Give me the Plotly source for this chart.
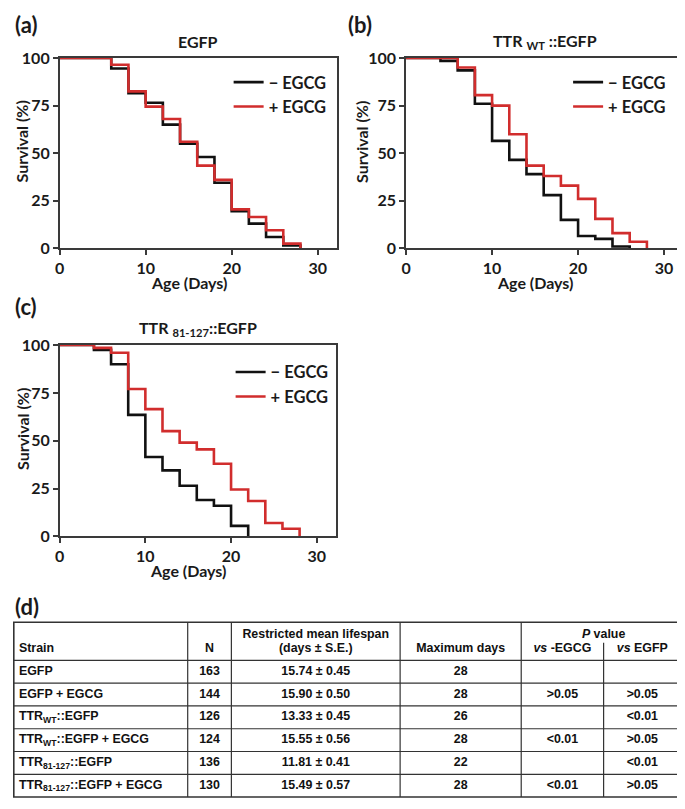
import subprocess
import plotly.graph_objects as go

# ---------------- data ----------------
# Panel (a) EGFP
a_days_ctrl = [0, 6, 8, 10, 12, 14, 16, 18, 20, 22, 24, 26, 28]
a_surv_ctrl = [100, 94.5, 81.5, 76.5, 65, 55, 48, 34.5, 19.5, 13, 6, 1.5, 0]
a_days_egcg = [0, 6, 8, 10, 12, 14, 16, 18, 20, 22, 24, 26, 28]
a_surv_egcg = [100, 96.5, 82.5, 74.5, 68, 56, 43.5, 36, 20.5, 16.5, 9.5, 2.5, 0]

# Panel (b) TTR WT::EGFP
b_days_ctrl = [0, 4, 6, 8, 10, 12, 14, 16, 18, 20, 22, 24, 26]
b_surv_ctrl = [100, 98.5, 93.5, 76, 56.5, 46.5, 39, 28, 15, 6.5, 5, 1, 0]
b_days_egcg = [0, 6, 8, 10, 12, 14, 16, 18, 20, 22, 24, 26, 28]
b_surv_egcg = [100, 95, 80.5, 75, 60, 43.5, 38, 33, 26, 15.5, 8, 3.5, 0]

# Panel (c) TTR 81-127::EGFP
c_days_ctrl = [0, 4, 6, 8, 10, 12, 14, 16, 18, 20, 22]
c_surv_ctrl = [100, 97.5, 90, 63.5, 41.5, 34.5, 26.5, 19, 16, 5.5, 0]
c_days_egcg = [0, 4, 6, 8, 10, 12, 14, 16, 18, 20, 22, 24, 26, 28]
c_surv_egcg = [100, 98.5, 96, 77, 66.5, 55, 49, 45.5, 38, 24.5, 18.5, 7, 4, 0]

x_ticks = [0, 10, 20, 30]
y_ticks = [0, 25, 50, 75, 100]
series_names = ["\u2212 EGCG", "+ EGCG"]
panel_titles = ["EGFP", "TTR <sub>WT</sub> ::EGFP", "TTR <sub>81-127</sub>::EGFP"]
panel_labels = ["(a)", "(b)", "(c)", "(d)"]
x_title = "Age (Days)"
y_title = "Survival (%)"

# Table (d)
tbl_strain = ["EGFP", "EGFP + EGCG", "TTR<sub>WT</sub>::EGFP", "TTR<sub>WT</sub>::EGFP + EGCG",
              "TTR<sub>81-127</sub>::EGFP", "TTR<sub>81-127</sub>::EGFP + EGCG"]
tbl_n = ["163", "144", "126", "124", "136", "130"]
tbl_mean = ["15.74 \u00b1 0.45", "15.90 \u00b1 0.50", "13.33 \u00b1 0.45",
            "15.55 \u00b1 0.56", "11.81 \u00b1 0.41", "15.49 \u00b1 0.57"]
tbl_max = ["28", "28", "26", "28", "22", "28"]
tbl_p_egcg = ["", "&gt;0.05", "", "&lt;0.01", "", "&lt;0.01"]
tbl_p_egfp = ["", "&gt;0.05", "&lt;0.01", "&gt;0.05", "&lt;0.01", "&gt;0.05"]
tbl_head_top = ["", "", "Restricted mean lifespan", "", "<i>P</i> value"]
tbl_head_bot = ["Strain", "N", "(days \u00b1 S.E.)", "Maximum days", "<i>vs</i> -EGCG", "<i>vs</i> EGFP"]

# ---------------- layout constants ----------------
# The page body has an 8px margin, so the figure is made 8px smaller and
# all page-pixel positions are shifted by that offset.
PW, PH = 685, 809
OFF = 8
W, H = PW - OFF, PH - OFF
def px(x):
    return (x - OFF) / W
def py(y):
    return 1 - (y - OFF) / H

BLACK = "#111111"
RED = "#d12d2d"
FRAME = "#3a3a3a"
FONT = "Lato, 'Open Sans', 'Liberation Sans', sans-serif"

try:
    _fams = subprocess.run(["fc-list", ":", "family"], capture_output=True, text=True).stdout
except Exception:
    _fams = ""
if "Liberation Sans Narrow" in _fams:
    TFONT, TSIZE = "'Liberation Sans Narrow', 'Liberation Sans', sans-serif", 14.8
else:
    TFONT, TSIZE = "'Liberation Sans', Arial, sans-serif", 12.4

panels = [
    dict(x0=55, x1=334, y0=49, y1=244, leg_right=329, leg_top=56, ytx=17,
         data=(a_days_ctrl, a_surv_ctrl, a_days_egcg, a_surv_egcg)),
    dict(x0=404, x1=683, y0=49, y1=244, leg_right=671, leg_top=56, ytx=359,
         data=(b_days_ctrl, b_surv_ctrl, b_days_egcg, b_surv_egcg)),
    dict(x0=55, x1=333, y0=343, y1=539, leg_right=331, leg_top=353, ytx=17,
         data=(c_days_ctrl, c_surv_ctrl, c_days_egcg, c_surv_egcg)),
]

fig = go.Figure()
layout = dict(
    width=W, height=H, margin=dict(l=0, r=0, t=0, b=0),
    paper_bgcolor="white", plot_bgcolor="rgba(0,0,0,0)",
    font=dict(family=FONT, color="#1a1a1a"),
    showlegend=True,
)
annotations = []
shapes = []

for i, p in enumerate(panels):
    k = "" if i == 0 else str(i + 1)
    leg = "legend" if i == 0 else "legend" + str(i + 1)
    dc, sc, de, se = p["data"]
    for (d, s, col, nm) in [(dc, sc, BLACK, series_names[0]), (de, se, RED, series_names[1])]:
        fig.add_trace(go.Scatter(
            x=d, y=s, mode="lines", line=dict(color=col, width=2.6, shape="hv"),
            name=nm, xaxis="x" + k, yaxis="y" + k, legend=leg, hoverinfo="skip"))
    axcommon = dict(showline=True, linecolor=FRAME, linewidth=1.5, mirror=True,
                    ticks="outside", ticklen=5, tickwidth=1.5, tickcolor=FRAME,
                    showgrid=False, zeroline=False,
                    tickfont=dict(size=16, family=FONT, weight="bold", color="#1a1a1a"))
    layout["xaxis" + k] = dict(domain=[px(p["x0"]), px(p["x1"])], range=[0, 32.2],
                               tickvals=x_ticks, anchor="y" + k, **axcommon)
    layout["yaxis" + k] = dict(domain=[py(p["y1"]), py(p["y0"])], range=[0, 100],
                               tickvals=y_ticks, anchor="x" + k, **axcommon)
    layout[leg] = dict(x=px(p["leg_right"]), y=py(p["leg_top"]), xanchor="right", yanchor="top",
                       bgcolor="rgba(0,0,0,0)", borderwidth=0, tracegroupgap=0,
                       font=dict(size=16.5, family=FONT, weight="bold", color="#1a1a1a"),
                       itemwidth=30)
    # panel title
    annotations.append(dict(text=panel_titles[i], xref="paper", yref="paper",
                            x=px((p["x0"] + p["x1"]) / 2), y=py(p["y0"] - 17),
                            xanchor="center", yanchor="middle", showarrow=False,
                            font=dict(size=16, family=FONT, weight="bold", color="#1a1a1a")))
    # axis titles
    annotations.append(dict(text=x_title, xref="x" + k, yref="paper",
                            x=(x_ticks[0] + x_ticks[-1]) / 2, y=py(p["y1"] + 35),
                            xanchor="center", yanchor="middle", showarrow=False,
                            font=dict(size=16, family=FONT, weight="bold", color="#1a1a1a")))
    annotations.append(dict(text=y_title, xref="paper", yref="paper",
                            x=px(p["ytx"]), y=py((p["y0"] + p["y1"]) / 2 - 12),
                            xanchor="center", yanchor="middle", textangle=-90, showarrow=False,
                            font=dict(size=16, family=FONT, weight="bold", color="#1a1a1a")))

# panel letters
for lab, (lx, ly) in zip(panel_labels, [(8, 15), (343, 15), (8, 304), (8, 611)]):
    annotations.append(dict(text=lab, xref="paper", yref="paper", x=px(lx), y=py(ly),
                            xanchor="left", yanchor="middle", showarrow=False,
                            font=dict(size=22, family=FONT, weight="bold", color="#1a1a1a")))

# ---------------- table (d) ----------------
col_edges = [4, 184, 228, 398, 520, 603, 681]
t_top, t_head, t_bot = 627, 666, 806
nrows = len(tbl_strain)
row_h = (t_bot - t_head) / nrows
row_c = [t_head + row_h * (r + 0.5) for r in range(nrows)]
col_c = [(col_edges[j] + col_edges[j + 1]) / 2 for j in range(len(col_edges) - 1)]

T_Y0 = 600  # top of table area (page px)
layout["xaxis4"] = dict(domain=[0, 1], range=[OFF, PW], visible=False, fixedrange=True, anchor="y4")
layout["yaxis4"] = dict(domain=[0, py(T_Y0)], range=[PH, T_Y0], visible=False, fixedrange=True,
                        anchor="x4")

tfont = dict(size=TSIZE, family=TFONT, weight="bold", color="#111111")
# strain column (left aligned)
fig.add_trace(go.Scatter(x=[col_edges[0] + 10] * nrows, y=row_c, mode="text", text=tbl_strain,
                         textposition="middle right", textfont=tfont, xaxis="x4", yaxis="y4",
                         showlegend=False, hoverinfo="skip", cliponaxis=False))
for j, vals in [(1, tbl_n), (2, tbl_mean), (3, tbl_max), (4, tbl_p_egcg), (5, tbl_p_egfp)]:
    fig.add_trace(go.Scatter(x=[col_c[j]] * nrows, y=row_c, mode="text", text=vals,
                             textposition="middle center", textfont=tfont, xaxis="x4", yaxis="y4",
                             showlegend=False, hoverinfo="skip", cliponaxis=False))
# header
hy_top, hy_bot = t_top + 13, t_top + 27
hx_top = [None, None, col_c[2], None, col_edges[5]]
for j, txt in enumerate(tbl_head_top):
    if txt:
        fig.add_trace(go.Scatter(x=[hx_top[j]], y=[hy_top], mode="text", text=[txt],
                                 textposition="middle center", textfont=tfont, xaxis="x4", yaxis="y4",
                                 showlegend=False, hoverinfo="skip", cliponaxis=False))
fig.add_trace(go.Scatter(x=[col_edges[0] + 10], y=[hy_bot], mode="text", text=[tbl_head_bot[0]],
                         textposition="middle right", textfont=tfont, xaxis="x4", yaxis="y4",
                         showlegend=False, hoverinfo="skip", cliponaxis=False))
fig.add_trace(go.Scatter(x=col_c[1:], y=[hy_bot] * 5, mode="text", text=tbl_head_bot[1:],
                         textposition="middle center", textfont=tfont, xaxis="x4", yaxis="y4",
                         showlegend=False, hoverinfo="skip", cliponaxis=False))

lc = "#333333"
# outer box (left edge kept inside the visible page area)
xl = max(col_edges[0], OFF + 0.8)
shapes.append(dict(type="rect", xref="x4", yref="y4", x0=xl, x1=col_edges[-1],
                   y0=t_top, y1=t_bot, line=dict(color=lc, width=1.6)))
# horizontal lines
for yy in [t_head] + [t_head + row_h * r for r in range(1, nrows)]:
    shapes.append(dict(type="line", xref="x4", yref="y4", x0=xl, x1=col_edges[-1],
                       y0=yy, y1=yy, line=dict(color=lc, width=1.2)))
# vertical lines
for j, xx in enumerate(col_edges[1:-1]):
    ytop = t_top if j < 4 else t_top + 21
    shapes.append(dict(type="line", xref="x4", yref="y4", x0=xx, x1=xx,
                       y0=ytop, y1=t_bot, line=dict(color=lc, width=1.2)))

layout["annotations"] = annotations
layout["shapes"] = shapes
fig.update_layout(**layout)
fig.write_html("out.html")
